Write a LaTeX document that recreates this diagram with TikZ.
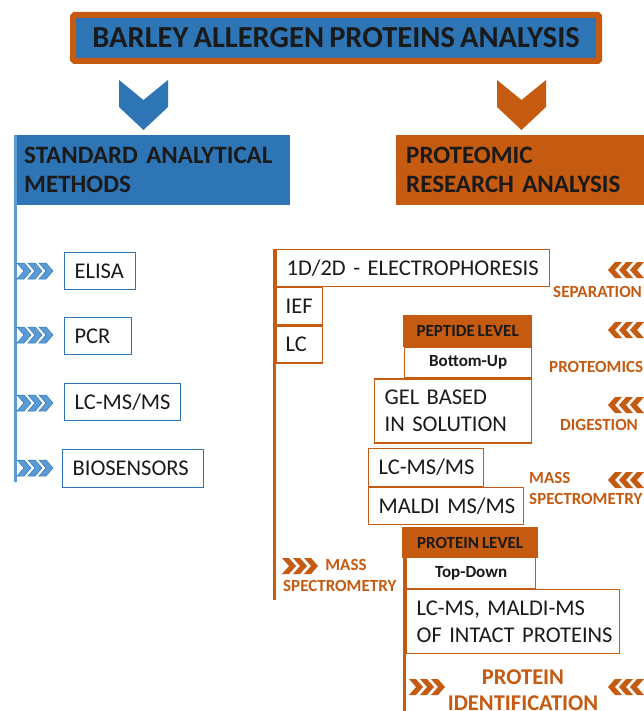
\documentclass[tikz,border=0pt]{standalone}
\usepackage{fontspec}
\setmainfont[WordSpace=0.75]{Carlito}
\usetikzlibrary{positioning}
\definecolor{blueT}{HTML}{2E75B6}
\definecolor{blueL}{HTML}{5B9BD5}
\definecolor{orng}{HTML}{C55A11}
\definecolor{ink}{HTML}{1A1A1A}
\newcommand\titlefont{\fontsize{30.5}{34}\selectfont\bfseries}
\newcommand\headfont{\fontsize{25}{29}\selectfont\bfseries}
\newcommand\boxfont{\fontsize{22.5}{26.5}\selectfont}
\newcommand\lblfont{\fontsize{17}{21}\selectfont\bfseries}
\newcommand\bigfont{\fontsize{22.5}{26}\selectfont\bfseries}
\tikzset{
    head/.style={anchor=north west, inner xsep=10pt, inner ysep=0pt, align=left, font=\headfont, text=ink, minimum height=70pt},
    sbox/.style={draw=blueT, line width=1.2pt, inner xsep=10pt, inner ysep=0pt, align=left, font=\boxfont, text=ink},
    pbox/.style={draw=orng, line width=1.2pt, inner xsep=10pt, inner ysep=0pt, align=left, font=\boxfont, text=ink},
    lvl/.style={draw=orng, fill=orng, line width=1.2pt, inner sep=0pt, font=\lblfont, text=ink},
    lvlw/.style={draw=orng, fill=white, line width=1.2pt, inner sep=0pt, font=\lblfont, text=ink},
    lbl/.style={inner sep=0pt, font=\lblfont, text=orng},
    vline/.style={line width=3pt},
    chevR/.pic={
        \path [pic actions] (0,-8) -- (7,-8) -- (14,0) -- (7,8) -- (0,8) -- (7,0) -- cycle;
        \path [pic actions] (11,-8) -- (18,-8) -- (25,0) -- (18,8) -- (11,8) -- (18,0) -- cycle;
        \path [pic actions] (22,-8) -- (29,-8) -- (36,0) -- (29,8) -- (22,8) -- (29,0) -- cycle;
    },
    chevL/.pic={
        \path [pic actions] (0,0) -- (7,-8) -- (14,-8) -- (7,0) -- (14,8) -- (7,8) -- cycle;
        \path [pic actions] (11,0) -- (18,-8) -- (25,-8) -- (18,0) -- (25,8) -- (18,8) -- cycle;
        \path [pic actions] (22,0) -- (29,-8) -- (36,-8) -- (29,0) -- (36,8) -- (29,8) -- cycle;
    }
}

\begin{document}
\begin{tikzpicture}[x=1pt, y=-1pt]
    \clip (0,0) rectangle (644,711);
    \fill [white] (0,0) rectangle (644,711);

    \node (title) [draw=orng, line width=6pt, fill=blueT, rounded corners=1.5pt, minimum width=526pt, minimum height=46pt, inner sep=0pt, font=\titlefont, text=ink] at (336,38) {BARLEY ALLERGEN PROTEINS ANALYSIS};

    \fill [blueT] (119,80) -- (143.5,100) -- (168,80) -- (168,107) -- (143.5,130) -- (119,107) -- cycle;
    \fill [orng] (497,80) -- (521.5,100) -- (546,80) -- (546,107) -- (521.5,130) -- (497,107) -- cycle;

    \node (std) [head, fill=blueT, text width=256pt] at (14,135) {\mbox{STANDARD ANALYTICAL}\\METHODS};
    \node (prot) [head, fill=orng, text width=240pt] at (396,135) {PROTEOMIC\\\mbox{RESEARCH ANALYSIS}};

    \coordinate (sEnd) at (15.5,482);
    \path [draw, vline, blueL] (std.north west -| sEnd) -- (sEnd);

    \node (elisa) [sbox, anchor=north west, text width=51pt, minimum height=37pt] at (64,252) {ELISA};
    \node (pcr) [sbox, anchor=north west, text width=47pt, minimum height=37pt] at (64,317) {PCR};
    \node (lcms) [sbox, anchor=north west, text width=96pt, minimum height=37pt] at (64,383) {\mbox{LC-MS/MS}};
    \node (bio) [sbox, anchor=north west, text width=121pt, minimum height=38pt] at (62,449) {\mbox{BIOSENSORS}};
    \pic [fill=blueL, draw=blueT, line width=0.5pt] at (17,271) {chevR};
    \pic [fill=blueL, draw=blueT, line width=0.5pt] at (17,335) {chevR};
    \pic [fill=blueL, draw=blueT, line width=0.5pt] at (17,403) {chevR};
    \pic [fill=blueL, draw=blueT, line width=0.5pt] at (17,468) {chevR};

    \node (elec) [pbox, anchor=north west, text width=253pt, minimum height=37pt] at (276,249) {\mbox{1D/2D - ELECTROPHORESIS}};
    \node (ief) [pbox, below=0pt of elec.south west, anchor=north west, inner xsep=9pt, text width=28pt, minimum height=37pt] {IEF};
    \node (lc) [pbox, below=0pt of ief.south west, anchor=north west, inner xsep=9pt, text width=28pt, minimum height=37pt] {LC};

    \node (pep) [lvl, anchor=north west, minimum width=128pt, minimum height=31pt] at (403,315) {PEPTIDE LEVEL};
    \node (bup) [lvlw, below=0pt of pep.south east, anchor=north east, minimum width=127pt, minimum height=30pt] {Bottom-Up};
    \node (gel) [pbox, below=0pt of bup.south east, anchor=north east, text width=137pt, minimum height=64pt] {\mbox{GEL BASED}\\\mbox{IN SOLUTION}};
    \node (lcms2) [pbox, anchor=north west, text width=95pt, minimum height=38pt] at (368,448) {\mbox{LC-MS/MS}};
    \node (maldi) [pbox, below=0pt of lcms2.south west, anchor=north west, text width=135pt, minimum height=37pt] {\mbox{MALDI MS/MS}};

    \node (plev) [lvl, anchor=north west, minimum width=135pt, minimum height=30pt] at (402,527) {PROTEIN LEVEL};
    \node (tdown) [lvlw, anchor=north west, minimum width=129pt, minimum height=31pt] at (406,557) {Top-Down};
    \node (intact) [pbox, below=0pt of tdown.south west, anchor=north west, text width=193pt, minimum height=64pt] {\mbox{LC-MS, MALDI-MS}\\\mbox{OF INTACT PROTEINS}};

    \coordinate (pEnd) at (274.5,600);
    \path [draw, vline, orng] (elec.north west -| pEnd) -- (pEnd);
    \coordinate (rEnd) at (404.5,715);
    \path [draw, vline, orng] (plev.north west -| rEnd) -- (rEnd);

    \node (sep) [lbl, anchor=base west] at (553,297) {SEPARATION};
    \node (prm) [lbl, anchor=base west] at (549,372) {PROTEOMICS};
    \node (dig) [lbl, anchor=base west] at (560,430) {DIGESTION};
    \node (msA) [lbl, anchor=base west] at (529,483) {MASS};
    \node (msB) [lbl, anchor=base west] at (529,504) {SPECTROMETRY};
    \node (msC) [lbl, anchor=base] at (346,570) {MASS};
    \node (msD) [lbl, anchor=base west] at (283,591) {SPECTROMETRY};
    \node (pidA) [lbl, font=\bigfont, anchor=base] at (523,684) {PROTEIN};
    \node (pidB) [lbl, font=\bigfont, anchor=base] at (523,710) {IDENTIFICATION};

    \pic [fill=orng] at (608,270) {chevL};
    \pic [fill=orng] at (608,330) {chevL};
    \pic [fill=orng] at (608,405) {chevL};
    \pic [fill=orng] at (608,480) {chevL};
    \pic [fill=orng] at (608,687) {chevL};
    \pic [fill=orng] at (282,566) {chevR};
    \pic [fill=orng] at (409,687) {chevR};
\end{tikzpicture}
\end{document}
